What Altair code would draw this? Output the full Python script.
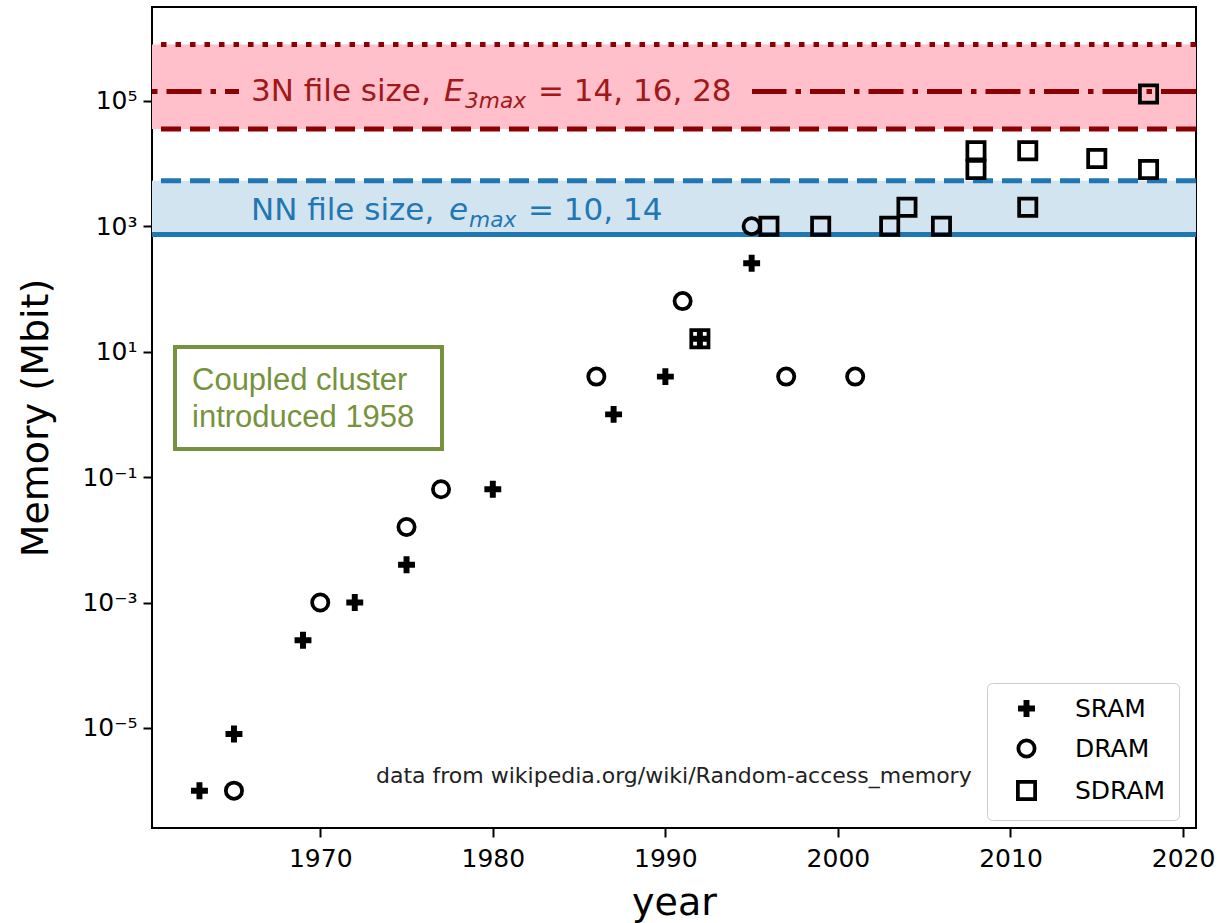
import json
import altair as alt
import pandas as pd

# ---------------------------------------------------------------------------
# Memory chip capacity (Mbit) by year of introduction
# ---------------------------------------------------------------------------
sram_years = [1963, 1965, 1969, 1972, 1975, 1980, 1987, 1990, 1992, 1995]
sram_mbit = [1e-6, 8e-6, 2.5e-4, 1e-3, 4e-3, 0.064, 1, 4, 16, 256]

dram_years = [1965, 1970, 1975, 1977, 1986, 1991, 1995, 1997, 2001]
dram_mbit = [1e-6, 1e-3, 0.016, 0.064, 4, 64, 1000, 4, 4]

sdram_years = [1992, 1996, 1999, 2003, 2004, 2006, 2008, 2008, 2011, 2011, 2015, 2018, 2018]
sdram_mbit = [16, 1000, 1000, 1000, 2000, 1000, 8000, 16000, 16000, 2000, 12000, 8000, 128000]

memory_types = ["SRAM", "DRAM", "SDRAM"]

# Interaction file sizes (Mbit)
three_n_sizes = [3.55e4, 1.4e5, 7.9e5]   # E3max = 14, 16, 28
three_n_dash = [[20, 9], [35, 9, 5.5, 9], [5.5, 9]]
nn_sizes = [7.4e2, 5.3e3]                # emax = 10, 14
nn_dash = [[1, 0], [20, 9]]

# Axes
x_domain = [1960.25, 2020.75]
y_domain = [10 ** -6.595, 10 ** 6.495]
x_ticks = [1970, 1980, 1990, 2000, 2010, 2020]
y_ticks = [1e-5, 1e-3, 1e-1, 1e1, 1e3, 1e5]
y_tick_labels = ["10\u207b\u2075", "10\u207b\u00b3", "10\u207b\u00b9", "10\u00b9", "10\u00b3", "10\u2075"]

W, H = 1044, 821
FONT = "DejaVu Sans"
DARKRED = "#8B0000"
LABEL_RED = "#A01818"
BLUE = "#1f77b4"
GREEN = "#76923C"
PINK = "#FFC0CB"
LIGHT_BLUE = "#D2E4F0"

# marker outlines: filled plus, open circle, open square (unit coordinates)
PLUS_PATH = ("M-0.81,-0.135L-0.135,-0.135L-0.135,-0.81L0.135,-0.81L0.135,-0.135"
             "L0.81,-0.135L0.81,0.135L0.135,0.135L0.135,0.81L-0.135,0.81"
             "L-0.135,0.135L-0.81,0.135Z")
SQUARE_PATH = "M-1.06,-1.06H1.06V1.06H-1.06Z"
MARKER_SIZE = 264
MARKER_EDGE = 3.75

xscale = alt.Scale(domain=x_domain, nice=False, zero=False)
yscale = alt.Scale(type="log", domain=y_domain, nice=False)

label_expr = (json.dumps(y_tick_labels, ensure_ascii=False)
              + "[round((log(datum.value) / LN10 + 5) / 2)]")

x_axis = alt.Axis(values=x_ticks, format="d", title="year", grid=False, domain=False,
                  labelFont=FONT, labelFontSize=25, labelColor="black", labelPadding=9,
                  tickSize=9, tickWidth=2, tickColor="black",
                  titleFont=FONT, titleFontSize=38, titleFontWeight="normal",
                  titleColor="black", titlePadding=13)
y_axis = alt.Axis(values=y_ticks, labelExpr=label_expr, title="Memory (Mbit)", grid=False,
                  domain=False, labelFont=FONT, labelFontSize=25, labelColor="black",
                  labelPadding=6, tickSize=9, tickWidth=2, tickColor="black",
                  titleFont=FONT, titleFontSize=38, titleFontWeight="normal",
                  titleColor="black", titlePadding=26)

# ---------------------------------------------------------------------------
# Shaded file-size bands and their boundary lines
# ---------------------------------------------------------------------------
def band(lo, hi, color):
    return alt.Chart(pd.DataFrame({"lo": [lo], "hi": [hi]})).mark_rect(color=color).encode(
        x=alt.value(0), x2=alt.value(W),
        y=alt.Y("lo:Q", scale=yscale, axis=y_axis), y2="hi:Q",
    )


bands = [band(three_n_sizes[0], three_n_sizes[-1], PINK),
         band(nn_sizes[0], nn_sizes[-1], LIGHT_BLUE)]


def level_rule(value, color, dash):
    return alt.Chart(pd.DataFrame({"v": [value]})).mark_rule(
        color=color, strokeWidth=5, strokeDash=dash, strokeCap="butt"
    ).encode(y=alt.Y("v:Q", scale=yscale, axis=y_axis))


rules = [level_rule(v, DARKRED, d) for v, d in zip(three_n_sizes, three_n_dash)]
rules += [level_rule(v, BLUE, d) for v, d in zip(nn_sizes, nn_dash)]

# pink box behind the 3N label, interrupting the dash-dot line
label_box = alt.Chart(pd.DataFrame({"k": [0]})).mark_rect(color=PINK).encode(
    x=alt.value(87), x2=alt.value(600), y=alt.value(74), y2=alt.value(97)
)


def piece(text, x, y, size, color, italic=False, font=FONT, align="left"):
    return alt.Chart(pd.DataFrame({"t": [text]})).mark_text(
        align=align, baseline="alphabetic", font=font, fontSize=size,
        fontStyle="italic" if italic else "normal", color=color
    ).encode(x=alt.value(x), y=alt.value(y), text="t:N")


labels = [
    piece("3N file size,", 99, 94, 31, LABEL_RED),
    piece("E", 292, 94, 31, LABEL_RED, italic=True),
    piece("3max", 313, 101, 21.7, LABEL_RED, italic=True),
    piece("= 14, 16, 28", 386, 94, 31, LABEL_RED),
    piece("NN file size,", 99, 213, 31, BLUE),
    piece("e", 297, 213, 31, BLUE, italic=True),
    piece("max", 317, 220, 21.7, BLUE, italic=True),
    piece("= 10, 14", 376, 213, 31, BLUE),
    piece("Coupled cluster", 40, 383, 31, GREEN, font="Liberation Sans"),
    piece("introduced 1958", 40, 420, 31, GREEN, font="Liberation Sans"),
    piece("data from wikipedia.org/wiki/Random-access_memory", 224, 776, 22, "#222222"),
]

cc_box = alt.Chart(pd.DataFrame({"k": [0]})).mark_rect(
    fill="transparent", stroke=GREEN, strokeWidth=4
).encode(x=alt.value(23), x2=alt.value(290), y=alt.value(340), y2=alt.value(442))

# ---------------------------------------------------------------------------
# Chip data points
# ---------------------------------------------------------------------------
rows = []
for kind, years, vals in [("SRAM", sram_years, sram_mbit),
                          ("DRAM", dram_years, dram_mbit),
                          ("SDRAM", sdram_years, sdram_mbit)]:
    rows += [{"year": y, "mbit": v, "type": kind} for y, v in zip(years, vals)]
chips = pd.DataFrame(rows)

legend = alt.Legend(
    title=None, orient="none", legendX=835, legendY=676,
    labelFont=FONT, labelFontSize=25, labelColor="black",
    rowPadding=9, padding=13, symbolOffset=14, labelOffset=36,
    symbolSize=MARKER_SIZE, symbolStrokeWidth=MARKER_EDGE, symbolStrokeColor="black",
    symbolOpacity=1,
    fillColor="rgba(255,255,255,0.8)", strokeColor="#cccccc", cornerRadius=5,
)

points = alt.Chart(chips).mark_point(
    filled=True, strokeWidth=MARKER_EDGE, size=MARKER_SIZE, opacity=1
).encode(
    x=alt.X("year:Q", scale=xscale, axis=x_axis),
    y=alt.Y("mbit:Q", scale=yscale, axis=y_axis),
    shape=alt.Shape("type:N", scale=alt.Scale(domain=memory_types,
                                              range=[PLUS_PATH, "circle", SQUARE_PATH]),
                    legend=legend),
    fill=alt.Fill("type:N", scale=alt.Scale(domain=memory_types,
                                            range=["black", "transparent", "transparent"]),
                  legend=legend),
    stroke=alt.Stroke("type:N", scale=alt.Scale(domain=memory_types,
                                                range=["black", "black", "black"]),
                      legend=legend),
)

chart = alt.layer(
    *bands, *rules, label_box, *labels, cc_box, points
).properties(
    width=W, height=H,
    background="white",
    autosize=alt.AutoSizeParams(type="none"),
    padding={"left": 152, "top": 7, "right": 25, "bottom": 95},
).configure_view(stroke="black", strokeWidth=2)

chart.save("out.html", embed_options={"renderer": "svg", "actions": False})
